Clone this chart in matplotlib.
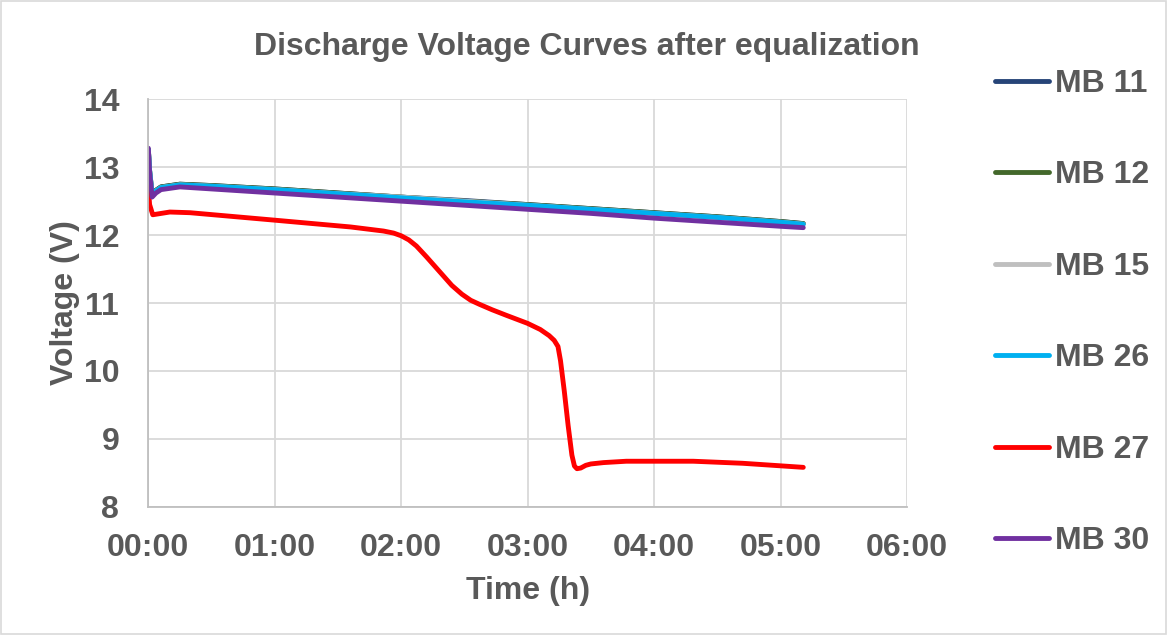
import os
import matplotlib
matplotlib.use("Agg")
import matplotlib.pyplot as plt
from matplotlib.ticker import FuncFormatter
from matplotlib.patches import Rectangle
from matplotlib.font_manager import FontProperties

BOLD_PATH = "/usr/share/fonts/truetype/liberation/LiberationSans-Bold.ttf"
FS = 23


def fp(size=FS):
    if os.path.exists(BOLD_PATH):
        return FontProperties(fname=BOLD_PATH, size=size)
    return FontProperties(family='Liberation Sans', weight='bold', size=size)


# ---- data (time in hours, voltage in V) ----
t_good = [0.0, 0.01, 0.03, 0.06, 0.10, 0.25, 0.5, 1.0, 1.5, 2.0, 2.5, 3.0, 3.5, 4.0, 4.5, 5.0, 5.18]
v_mb11 = [13.26, 12.95, 12.60, 12.66, 12.71, 12.75, 12.73, 12.68, 12.62, 12.56, 12.51, 12.45, 12.39, 12.33, 12.27, 12.20, 12.17]
v_mb12 = [13.26, 12.95, 12.60, 12.66, 12.71, 12.75, 12.73, 12.68, 12.62, 12.56, 12.50, 12.45, 12.39, 12.33, 12.27, 12.20, 12.17]
v_mb15 = [13.26, 12.95, 12.59, 12.65, 12.70, 12.74, 12.72, 12.67, 12.61, 12.56, 12.50, 12.44, 12.38, 12.32, 12.26, 12.19, 12.16]
v_mb26 = [13.26, 12.95, 12.59, 12.65, 12.70, 12.74, 12.72, 12.67, 12.61, 12.55, 12.49, 12.44, 12.38, 12.32, 12.26, 12.19, 12.16]
v_mb30 = [13.28, 12.92, 12.56, 12.62, 12.67, 12.71, 12.68, 12.62, 12.56, 12.50, 12.44, 12.38, 12.32, 12.25, 12.19, 12.13, 12.11]

t_mb27 = [0.0, 0.01, 0.035, 0.17, 0.33, 1.0, 1.6, 1.86, 1.94, 2.0, 2.06, 2.12, 2.2, 2.3, 2.4, 2.48, 2.55, 2.62,
          2.72, 2.83, 3.0, 3.1, 3.17, 3.21, 3.24, 3.26, 3.29, 3.32, 3.35, 3.37, 3.39, 3.42, 3.46, 3.5, 3.6,
          3.78, 4.31, 4.70, 5.18]
v_mb27 = [12.71, 12.45, 12.30, 12.34, 12.33, 12.22, 12.12, 12.06, 12.03, 11.99, 11.93, 11.84, 11.68, 11.47, 11.26, 11.13, 11.04, 10.98,
          10.90, 10.82, 10.70, 10.61, 10.52, 10.45, 10.36, 10.15, 9.70, 9.20, 8.76, 8.60, 8.56, 8.57, 8.61, 8.63, 8.65,
          8.67, 8.67, 8.64, 8.58]

labels = ["MB 11", "MB 12", "MB 15", "MB 26", "MB 27", "MB 30"]
colors = ["#264478", "#43682B", "#BFBFBF", "#00B0F0", "#FF0000", "#7030A0"]

x_ticks = [0, 1, 2, 3, 4, 5, 6]
y_ticks = [8, 9, 10, 11, 12, 13, 14]

TXT = "#595959"

fig = plt.figure(figsize=(11.68, 6.37), dpi=100)
ax = fig.add_axes([0.127, 0.2045, 0.6495, 0.6396])

series = [(t_good, v_mb11), (t_good, v_mb12), (t_good, v_mb15), (t_good, v_mb26), (t_mb27, v_mb27), (t_good, v_mb30)]
for (t, v), lab, c in zip(series, labels, colors):
    ax.plot(t, v, color=c, lw=3.5, label=lab, solid_capstyle='round', solid_joinstyle='round')

ax.set_xlim(x_ticks[0], x_ticks[-1])
ax.set_ylim(y_ticks[0], y_ticks[-1])
ax.set_xticks(x_ticks)
ax.set_yticks(y_ticks)
ax.xaxis.set_major_formatter(FuncFormatter(lambda h, p: f"{int(round(h)):02d}:00"))
ax.grid(True, color="#D9D9D9", lw=1.3)
ax.set_axisbelow(True)
for s in ["top", "right"]:
    ax.spines[s].set_visible(False)
for s in ["left", "bottom"]:
    ax.spines[s].set_color("#BFBFBF")
    ax.spines[s].set_linewidth(1.3)
ax.tick_params(axis='both', length=0, labelcolor=TXT)
ax.tick_params(axis='y', pad=21)
ax.tick_params(axis='x', pad=19)
for lbl in ax.get_xticklabels() + ax.get_yticklabels():
    lbl.set_fontproperties(fp())

ax.set_xlabel("Time (h)", fontproperties=fp(), color=TXT, labelpad=9)
ax.set_ylabel("Voltage (V)", fontproperties=fp(), color=TXT)
ax.yaxis.set_label_coords(-0.090, 0.5)

fig.text(0.5026, 0.927, "Discharge Voltage Curves after equalization", ha='center', va='center',
         fontproperties=fp(), color=TXT)

leg = fig.legend(loc='upper left', bbox_to_anchor=(0.8523, 0.892), frameon=False, prop=fp(),
                 handlelength=1.66, handletextpad=0.19, labelspacing=1.925, borderpad=0, borderaxespad=0)
for txt in leg.get_texts():
    txt.set_color(TXT)

fig.add_artist(Rectangle((0.001, 0.004), 0.997, 0.994, transform=fig.transFigure, fill=False,
                         edgecolor="#D9D9D9", lw=1.2))

fig.savefig("out.png", dpi=100, facecolor="white")
